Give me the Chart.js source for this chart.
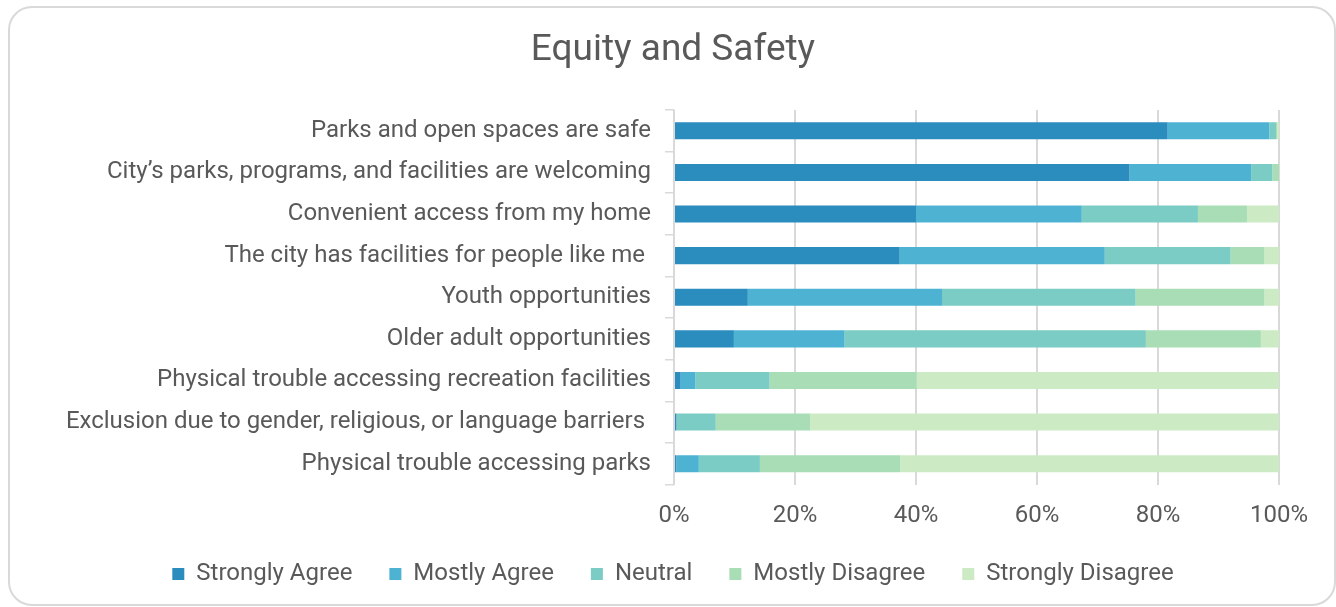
<!DOCTYPE html>
<html>
<head>
<meta charset="utf-8">
<script src="https://cdn.jsdelivr.net/npm/chart.js@4/dist/chart.umd.min.js"></script>
<style>
  html, body { margin: 0; padding: 0; background: #ffffff; }
  #wrap { position: relative; width: 1336px; height: 607px; overflow: hidden; }
  #card { position: absolute; left: 8px; top: 6px; width: 1328px; height: 600px; border: 2px solid #d9d9d9; border-radius: 24px; box-sizing: border-box; }
  #c { position: absolute; left: 0; top: 0; }
</style>
</head>
<body>
<div id="wrap">
  <div id="card"></div>
  <canvas id="c" width="1336" height="607"></canvas>
</div>
<script>
const categories = [
  "Parks and open spaces are safe",
  "City\u2019s parks, programs, and facilities are welcoming",
  "Convenient access from my home",
  "The city has facilities for people like me ",
  "Youth opportunities",
  "Older adult opportunities",
  "Physical trouble accessing recreation facilities",
  "Exclusion due to gender, religious, or language barriers ",
  "Physical trouble accessing parks"
];
const seriesNames = ["Strongly Agree", "Mostly Agree", "Neutral", "Mostly Disagree", "Strongly Disagree"];
const stronglyAgree    = [81.6, 75.3, 40.0, 37.3, 12.2,  9.9,  1.1,  0.4,  0.4];
const mostlyAgree      = [16.8, 20.1, 27.4, 33.9, 32.1, 18.3,  2.4,  0.0,  3.7];
const neutral          = [ 1.1,  3.5, 19.2, 20.8, 32.0, 49.8, 12.3,  6.5, 10.1];
const mostlyDisagree   = [ 0.2,  1.1,  8.1,  5.6, 21.3, 19.0, 24.3, 15.6, 23.2];
const stronglyDisagree = [ 0.3,  0.0,  5.3,  2.4,  2.4,  3.0, 59.9, 77.5, 62.6];
const seriesColors = ["#2b8cbe", "#4eb3d3", "#7bccc4", "#a8ddb5", "#ccebc5"];
const xTicks = [0, 20, 40, 60, 80, 100];

const seriesValues = [stronglyAgree, mostlyAgree, neutral, mostlyDisagree, stronglyDisagree];
const textColor = "#595959";
const fontFamily = "Roboto, 'Noto Sans', sans-serif";

new Chart(document.getElementById("c"), {
  type: "bar",
  data: {
    labels: categories,
    datasets: seriesNames.map((name, i) => ({
      label: name,
      data: seriesValues[i],
      backgroundColor: seriesColors[i],
      borderWidth: 0,
      barPercentage: 0.41,
      categoryPercentage: 1.0
    }))
  },
  options: {
    indexAxis: "y",
    responsive: false,
    animation: false,
    layout: { padding: { left: 67, right: 57, top: 0, bottom: 11 } },
    plugins: {
      title: {
        display: true,
        text: "Equity and Safety",
        color: textColor,
        font: { family: fontFamily, size: 37, weight: "normal" },
        padding: { top: 29, bottom: 36.6 }
      },
      legend: {
        position: "bottom",
        labels: {
          color: textColor,
          font: { family: fontFamily, size: 24 },
          boxWidth: 12,
          boxHeight: 12,
          padding: 37
        }
      },
      tooltip: { enabled: false }
    },
    scales: {
      x: {
        stacked: true,
        min: 0,
        max: 100,
        afterBuildTicks: (axis) => { axis.ticks = xTicks.map(v => ({ value: v })); },
        afterFit: (axis) => { axis.height = 40.5; },
        ticks: {
          color: textColor,
          font: { family: fontFamily, size: 24 },
          padding: 17,
          callback: (v) => v + "%"
        },
        grid: { color: "#d9d9d9", lineWidth: 2, drawTicks: false },
        border: { display: false }
      },
      y: {
        stacked: true,
        afterFit: (axis) => { axis.width = 607; },
        ticks: {
          color: textColor,
          font: { family: fontFamily, size: 24 },
          padding: 14
        },
        grid: { drawOnChartArea: false, color: "#d9d9d9", lineWidth: 1.5, tickLength: 9 },
        border: { display: true, color: "#d9d9d9", width: 1.5 }
      }
    }
  }
});
</script>
</body>
</html>
